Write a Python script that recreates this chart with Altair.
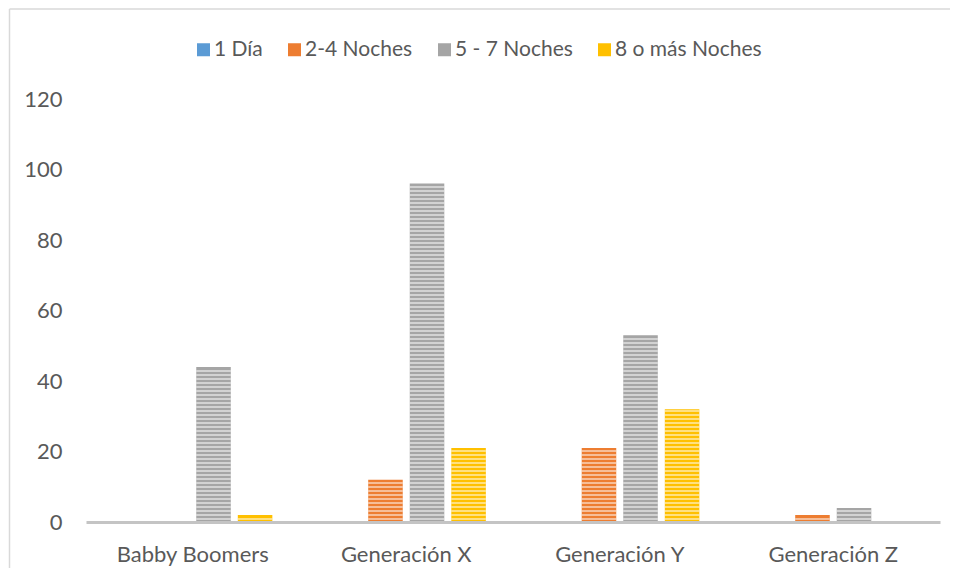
import altair as alt
import pandas as pd

# ---- data ----
groups = ["Babby Boomers", "Generación X", "Generación Y", "Generación Z"]
series = ["1 Día", "2-4 Noches", "5 - 7 Noches", "8 o más Noches"]
v_1dia = [0, 0, 0, 0]
v_2_4 = [0, 12, 21, 2]
v_5_7 = [44, 96, 53, 4]
v_8 = [2, 21, 32, 0]
colors = ["#5B9BD5", "#ED7D31", "#A5A5A5", "#FFC000"]
y_ticks = [0, 20, 40, 60, 80, 100, 120]

rows = []
for s, vals in zip(series, [v_1dia, v_2_4, v_5_7, v_8]):
    for g, v in zip(groups, vals):
        rows.append({"group": g, "series": s, "value": v})
df = pd.DataFrame(rows)

PLOT_W, PLOT_H = 854, 423
YMAX = 120
step = 4 * YMAX / PLOT_H   # stripe period (4px) in data units
half = step / 2
FONT = "Lato"
TXT = "#595959"
FRAME = "#D9D9D9"

x_enc = alt.X(
    "group:N", sort=groups,
    scale=alt.Scale(domain=groups, paddingInner=0.2544, paddingOuter=0.1272),
    axis=alt.Axis(title=None, labelAngle=0, ticks=False, domainColor="#C4C4C4",
                  domainWidth=3, labelPadding=22, zindex=1, labelFontSize=22,
                  labelColor=TXT, labelFont=FONT),
)
xo_enc = alt.XOffset("series:N", sort=series,
                     scale=alt.Scale(domain=series, paddingInner=0.169, paddingOuter=0))
y_scale = alt.Scale(domain=[0, YMAX], nice=False)

bars = alt.Chart(df).mark_bar().encode(
    x=x_enc,
    xOffset=xo_enc,
    y=alt.Y("value:Q", scale=y_scale,
            axis=alt.Axis(title=None, values=y_ticks, ticks=False, domain=False,
                          grid=False, labelPadding=24, labelFontSize=22,
                          labelColor=TXT, labelFont=FONT)),
    color=alt.Color("series:N", sort=series,
                    scale=alt.Scale(domain=series, range=colors),
                    legend=alt.Legend(title=None, orient="none", legendX=107, legendY=-60,
                                      direction="horizontal", symbolType="square",
                                      symbolSize=169, symbolStrokeWidth=0,
                                      labelFontSize=21, labelColor=TXT, labelFont=FONT,
                                      columnPadding=21, labelOffset=0, labelLimit=400)),
)

stripes = alt.Chart(df).transform_calculate(
    s=f"sequence(0, datum.value - {2 * half} + 1e-6, {step})"
).transform_flatten(["s"]).transform_calculate(
    lo=f"datum.s + {half}", hi=f"datum.s + {2 * half}"
).mark_bar(color="white", opacity=0.5).encode(
    x=alt.X("group:N", sort=groups),
    xOffset=alt.XOffset("series:N", sort=series),
    y=alt.Y("lo:Q", scale=y_scale, title=None),
    y2="hi:Q",
)

frame_data = alt.Data(values=[{"k": 1}])
frame_left = alt.Chart(frame_data).mark_rule(color=FRAME, strokeWidth=1.5).encode(
    x=alt.value(-76.5), y=alt.value(-90), y2=alt.value(PLOT_H + 200),
)
frame_top = alt.Chart(frame_data).mark_rule(color=FRAME, strokeWidth=1.5).encode(
    x=alt.value(-76.5), x2=alt.value(PLOT_W + 200), y=alt.value(-90),
)

chart = alt.layer(bars, stripes, frame_left, frame_top).properties(
    width=PLOT_W, height=PLOT_H,
    padding={"left": 78, "top": 91, "right": 10, "bottom": 46},
    autosize=alt.AutoSizeParams(type="none"),
).configure(font=FONT).configure_view(stroke=None)

chart.save("out.html", embed_options={"renderer": "svg", "actions": False})
